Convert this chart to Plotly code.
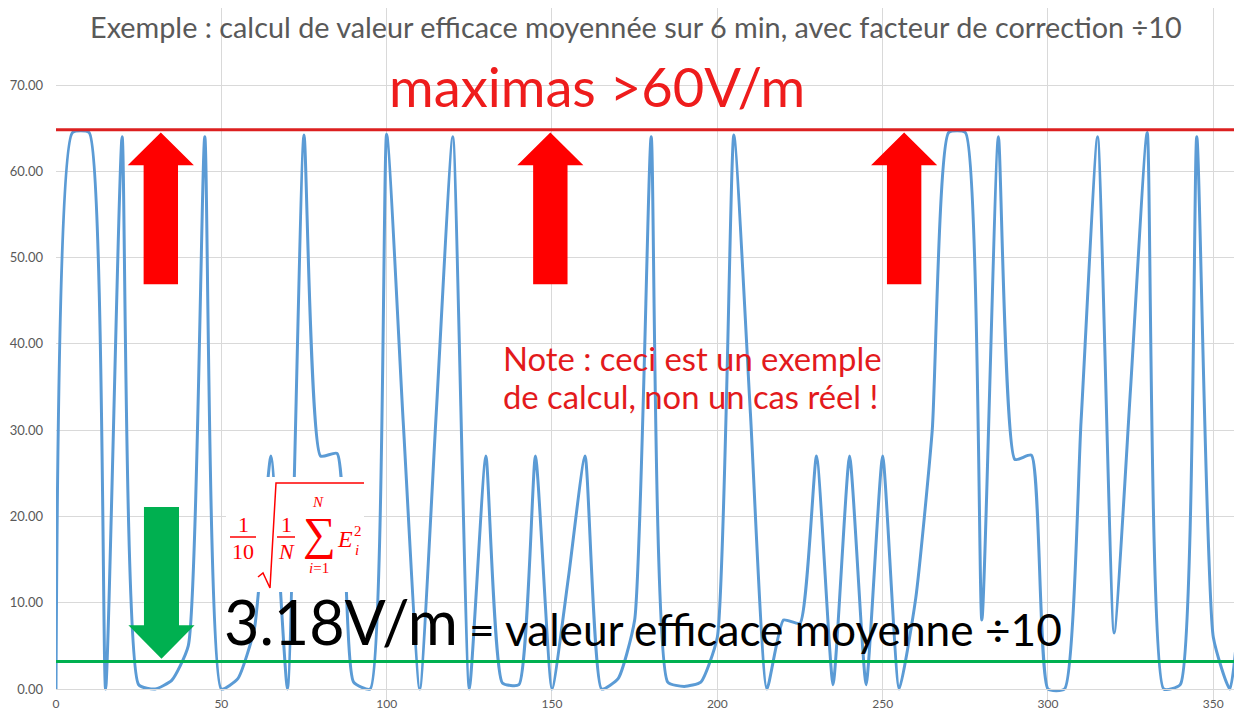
import plotly.graph_objects as go

# ---------------- data ----------------
seconds = [0, 5, 10, 15, 20, 25, 30, 35, 40, 45, 50, 55, 60, 65, 70, 75, 80, 85, 90, 95,
           100, 105, 110, 115, 120, 125, 130, 135, 140, 145, 150, 155, 160, 165, 170, 175,
           180, 185, 190, 195, 200, 205, 210, 215, 220, 225, 230, 235, 240, 245, 250, 255,
           260, 265, 270, 275, 280, 285, 290, 295, 300, 305, 310, 315, 320, 325, 330, 335,
           340, 345, 350, 355, 360]
field = [0, 64.5, 64.5, 0, 64, 0.5, 0, 1.0, 5, 64, 0, 1.2, 7, 27, 0, 64.2, 27, 27.3, 0.8, 0,
         64.3, 31, 0, 32, 64, 0, 27, 0.7, 0.5, 27, 0, 13, 27, 0, 1.2, 8,
         64, 0.8, 0.3, 0.8, 6, 64.2, 32, 0, 8, 7.6, 27, 0.5, 27, 0.5, 27, 0,
         10.5, 30, 64.5, 64.5, 8, 64, 26.6, 27.1, 0, 0, 31, 64, 6.5, 35, 64.5, 0,
         0.5, 64, 6, 0, 20]
mean_level = 3.18
max_level = 64.8
x_ticks = [0, 50, 100, 150, 200, 250, 300, 350]
y_ticks = [0, 10, 20, 30, 40, 50, 60, 70]
y_tick_labels = ["0.00", "10.00", "20.00", "30.00", "40.00", "50.00", "60.00", "70.00"]
up_arrow_x = [31.7, 149.5, 256.5]

# ---------------- geometry helpers ----------------
# the page body has an 8px margin, so the figure is drawn 8px right/down
OFF = 8
W, H = 1242 - OFF, 715 - OFF
ML, MR, MT, MB = 56 - OFF, 0, 0, 13
PW, PH = W - ML - MR, H - MT - MB
PX_PER_UNIT = 8.6286
Y_LO = -13 / PX_PER_UNIT
Y_HI = Y_LO + PH / PX_PER_UNIT


def pxx(x):
    return (x - OFF - ML) / PW


def pxy(y):
    return 1 - (y - OFF - MT) / PH


def arrow_path(xc, tip, head_base, tail, head_half, shaft_half):
    return (f"M {xc - shaft_half},{tail} L {xc - shaft_half},{head_base} "
            f"L {xc - head_half},{head_base} L {xc},{tip} L {xc + head_half},{head_base} "
            f"L {xc + shaft_half},{head_base} L {xc + shaft_half},{tail} Z")


fig = go.Figure()
fig.add_trace(go.Scatter(
    x=seconds, y=field, mode="lines",
    line=dict(color="#5b9bd5", width=3, shape="spline", smoothing=0.5),
    hoverinfo="skip", showlegend=False))

shapes = []
shapes.append(dict(type="line", xref="paper", yref="y", x0=0, x1=1, y0=max_level, y1=max_level,
                   line=dict(color="#dc2020", width=3), layer="above"))
shapes.append(dict(type="line", xref="paper", yref="y", x0=0, x1=1, y0=mean_level, y1=mean_level,
                   line=dict(color="#00b050", width=3), layer="above"))
for xc in up_arrow_x:
    shapes.append(dict(type="path", xref="x", yref="y",
                       path=arrow_path(xc, 64.5, 60.7, 46.9, 10.0, 5.2),
                       fillcolor="#ff0000", line=dict(width=0), layer="above"))
shapes.append(dict(type="path", xref="x", yref="y",
                   path=arrow_path(31.9, 3.5, 7.4, 21.1, 10.0, 5.3),
                   fillcolor="#00b050", line=dict(width=0), layer="above"))
shapes.append(dict(type="rect", xref="paper", yref="paper",
                   x0=pxx(226), x1=pxx(364), y0=pxy(592), y1=pxy(477),
                   fillcolor="white", line=dict(width=0), layer="above"))
for (a, b, yy) in [(230, 256, 537), (277, 295, 537)]:
    shapes.append(dict(type="line", xref="paper", yref="paper",
                       x0=pxx(a), x1=pxx(b), y0=pxy(yy), y1=pxy(yy),
                       line=dict(color="#ff0000", width=1.5), layer="above"))
rad_pts = [(258, 577), (263, 573), (270, 588), (276, 483), (364, 483)]
rad_path = "M " + " L ".join(f"{pxx(a)},{pxy(b)}" for a, b in rad_pts)
shapes.append(dict(type="path", xref="paper", yref="paper", path=rad_path,
                   line=dict(color="#ff0000", width=1.5), layer="above"))

annotations = []


def txt(text, x, y, size, color, family="Lato", xanchor="center", yanchor="middle"):
    annotations.append(dict(text=text, x=pxx(x), y=pxy(y), xref="paper", yref="paper",
                            showarrow=False, xanchor=xanchor, yanchor=yanchor,
                            font=dict(family=family, size=size, color=color)))


txt("Exemple : calcul de valeur efficace moyennée sur 6 min, avec facteur de correction ÷10",
    636, OFF, 28.8, "#595959", yanchor="top")
txt("maximas >60V/m", 597, 86, 54.3, "#ee1c1c")
txt("Note : ceci est un exemple", 501, 358, 32.8, "#e31a1c", xanchor="left")
txt("de calcul, non un cas réel !", 501, 396, 32.8, "#e31a1c", xanchor="left")
txt("3.18V/m", 222, 621, 61, "#000000", xanchor="left")
txt("= valeur efficace moyenne ÷10", 467, 628, 44.2, "#000000", xanchor="left")

serif = "Liberation Serif"
red = "#ff0000"
txt("1", 243, 524, 22, red, serif)
txt("10", 243, 551, 22, red, serif)
txt("1", 286, 524, 22, red, serif)
txt("<i>N</i>", 286, 551, 22, red, serif)
txt("∑", 319, 533, 46, red, serif)
txt("<i>N</i>", 318, 502, 15, red, serif)
txt("<i>i</i>=1", 319, 568, 15, red, serif)
txt("<i>E</i>", 345, 539, 24, red, serif)
txt("2", 358, 531, 15, red, serif)
txt("<i>i</i>", 357, 550, 15, red, serif)

fig.update_layout(
    width=W, height=H,
    margin=dict(l=ML, r=MR, t=MT, b=MB, autoexpand=False),
    paper_bgcolor="white", plot_bgcolor="white",
    showlegend=False,
    shapes=shapes, annotations=annotations,
    xaxis=dict(range=[0, PW / 3.3066], tickvals=x_ticks, ticktext=[str(v) for v in x_ticks],
               showgrid=True, gridcolor="#d9d9d9", gridwidth=1, zeroline=False,
               showline=True, linecolor="#d9d9d9", linewidth=1,
               anchor="free", position=(-Y_LO) / (Y_HI - Y_LO), automargin=False,
               ticks="", ticklabelstandoff=4,
               tickfont=dict(family="Lato", size=12, color="#595959")),
    yaxis=dict(range=[Y_LO, Y_HI], tickvals=y_ticks, ticktext=y_tick_labels,
               showgrid=True, gridcolor="#d9d9d9", gridwidth=1, zeroline=False,
               showline=False, ticks="", ticklabelstandoff=12, automargin=False,
               tickfont=dict(family="Lato", size=13, color="#595959")),
)

fig.write_html("out.html")
